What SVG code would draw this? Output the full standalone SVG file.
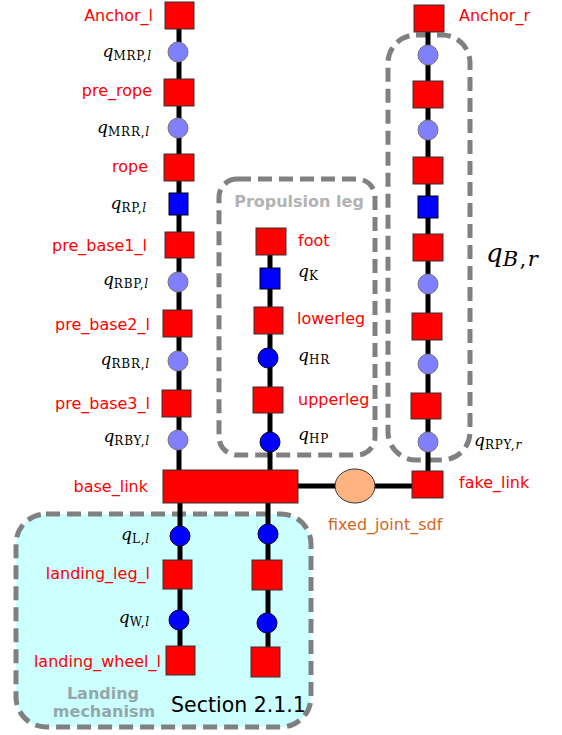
<svg xmlns="http://www.w3.org/2000/svg" width="562" height="735" viewBox="0 0 562 735">
<style>
.lk{fill:#ff0000;stroke:#333;stroke-width:1}
.jl{fill:#8080ff;stroke:#777;stroke-width:1}
.jb{fill:#0000ff;stroke:#000033;stroke-width:1}
.sq{fill:#0000ff;stroke:#000;stroke-width:1}
.wire{stroke:#000;stroke-width:5;fill:none}
.grp{fill:none;stroke:#808080;stroke-width:5;stroke-dasharray:14 7}
.lbl{font-family:"DejaVu Sans",sans-serif;font-size:16px;fill:#ff0000}
.ml{font-family:"DejaVu Serif","Liberation Serif",serif;font-size:17px;fill:#000}
.sub{font-size:12px;font-style:normal;letter-spacing:0.8px}
.it{font-style:italic}
</style>
<rect width="562" height="735" fill="#fff"/>
<g id="landing_group">
<rect x="16" y="514" width="295" height="213" rx="30" fill="#ccffff" stroke="#808080" stroke-width="5" stroke-dasharray="14 7"/>
<text x="103" y="699" text-anchor="middle" font-family="DejaVu Sans,sans-serif" font-weight="bold" font-size="16" fill="#95a8a8">Landing</text>
<text x="104" y="717" text-anchor="middle" font-family="DejaVu Sans,sans-serif" font-weight="bold" font-size="16" fill="#95a8a8">mechanism</text>
<text x="171" y="712" font-family="DejaVu Sans,sans-serif" font-size="20.5" fill="#000">Section 2.1.1</text>
</g>
<g id="propulsion_group">
<rect class="grp" x="219" y="179" width="156" height="276" rx="18"/>
<text x="299" y="207" text-anchor="middle" font-family="DejaVu Sans,sans-serif" font-weight="bold" font-size="16" fill="#b3b3b3">Propulsion leg</text>
</g>
<g id="right_group">
<rect class="grp" x="388" y="35" width="82" height="425" rx="28"/>
<text x="486" y="262" font-family="DejaVu Serif,serif" font-size="26" fill="#000"><tspan font-style="italic">q</tspan><tspan font-style="italic" font-size="21" dy="4" letter-spacing="1.5">B</tspan><tspan font-size="21" letter-spacing="1.5">,</tspan><tspan font-style="italic" font-size="21">r</tspan></text>
</g>
<g id="connectors">
<line class="wire" x1="179" y1="15" x2="179" y2="470"/>
<line class="wire" x1="270" y1="240" x2="270" y2="470"/>
<line class="wire" x1="428" y1="18" x2="428" y2="485"/>
<line class="wire" x1="180" y1="503" x2="180" y2="660"/>
<line class="wire" x1="268" y1="503" x2="268" y2="662"/>
<line class="wire" x1="298" y1="486" x2="412" y2="486"/>
</g>
<g id="Anchor_l"><rect class="lk" x="165" y="2" width="29" height="27"/><text class="lbl" x="153" y="21" text-anchor="end">Anchor_l</text></g>
<g id="q_MRP_l"><circle class="jl" cx="178" cy="52" r="10"/><text class="ml" x="152" y="57" text-anchor="end"><tspan class="it">q</tspan><tspan class="sub" dy="3">MRP,</tspan><tspan class="sub it">l</tspan></text></g>
<g id="pre_rope"><rect class="lk" x="164" y="79" width="30" height="27"/><text class="lbl" x="152" y="96" text-anchor="end">pre_rope</text></g>
<g id="q_MRR_l"><circle class="jl" cx="178" cy="128" r="10"/><text class="ml" x="150" y="133" text-anchor="end"><tspan class="it">q</tspan><tspan class="sub" dy="3">MRR,</tspan><tspan class="sub it">l</tspan></text></g>
<g id="rope"><rect class="lk" x="164" y="154" width="30" height="27"/><text class="lbl" x="148" y="172" text-anchor="end">rope</text></g>
<g id="q_RP_l"><rect class="sq" x="169" y="193" width="19" height="22"/><text class="ml" x="147" y="209" text-anchor="end"><tspan class="it">q</tspan><tspan class="sub" dy="3">RP,</tspan><tspan class="sub it">l</tspan></text></g>
<g id="pre_base1_l"><rect class="lk" x="165" y="232" width="29" height="26"/><text class="lbl" x="147" y="251" text-anchor="end">pre_base1_l</text></g>
<g id="q_RBP_l"><circle class="jl" cx="178" cy="282" r="10"/><text class="ml" x="149" y="285" text-anchor="end"><tspan class="it">q</tspan><tspan class="sub" dy="3">RBP,</tspan><tspan class="sub it">l</tspan></text></g>
<g id="pre_base2_l"><rect class="lk" x="163" y="310" width="29" height="27"/><text class="lbl" x="150" y="330" text-anchor="end">pre_base2_l</text></g>
<g id="q_RBR_l"><circle class="jl" cx="178" cy="361" r="10"/><text class="ml" x="150" y="365" text-anchor="end"><tspan class="it">q</tspan><tspan class="sub" dy="3">RBR,</tspan><tspan class="sub it">l</tspan></text></g>
<g id="pre_base3_l"><rect class="lk" x="162" y="390" width="29" height="27"/><text class="lbl" x="150" y="409" text-anchor="end">pre_base3_l</text></g>
<g id="q_RBY_l"><circle class="jl" cx="178" cy="440" r="10"/><text class="ml" x="150" y="442" text-anchor="end"><tspan class="it">q</tspan><tspan class="sub" dy="3">RBY,</tspan><tspan class="sub it">l</tspan></text></g>
<g id="base_link"><rect class="lk" x="163" y="470" width="135" height="33"/><text class="lbl" x="148" y="492" text-anchor="end">base_link</text></g>
<g id="q_L_l"><circle class="jb" cx="180" cy="536" r="10"/><text class="ml" x="150" y="540" text-anchor="end"><tspan class="it">q</tspan><tspan class="sub" dy="3">L,</tspan><tspan class="sub it">l</tspan></text></g>
<g id="landing_leg_l"><rect class="lk" x="163" y="560" width="29" height="29"/><text class="lbl" x="150" y="579" text-anchor="end">landing_leg_l</text></g>
<g id="q_W_l"><circle class="jb" cx="179" cy="620" r="10"/><text class="ml" x="150" y="623" text-anchor="end"><tspan class="it">q</tspan><tspan class="sub" dy="3">W,</tspan><tspan class="sub it">l</tspan></text></g>
<g id="landing_wheel_l"><rect class="lk" x="166" y="646" width="29" height="29"/><text class="lbl" x="161" y="667" text-anchor="end">landing_wheel_l</text></g>
<g id="q_L_r"><circle class="jb" cx="268" cy="534" r="10"/></g>
<g id="landing_leg_r"><rect class="lk" x="252" y="560" width="30" height="30"/></g>
<g id="q_W_r"><circle class="jb" cx="267" cy="623" r="10"/></g>
<g id="landing_wheel_r"><rect class="lk" x="251" y="647" width="29" height="30"/></g>
<g id="foot"><rect class="lk" x="256" y="228" width="30" height="27"/><text class="lbl" x="298" y="246">foot</text></g>
<g id="q_K"><rect class="sq" x="260" y="268" width="20" height="21"/><text class="ml" x="298" y="277"><tspan class="it">q</tspan><tspan class="sub" dy="3">K</tspan></text></g>
<g id="lowerleg"><rect class="lk" x="254" y="307" width="29" height="27"/><text class="lbl" x="297" y="324">lowerleg</text></g>
<g id="q_HR"><circle class="jb" cx="268" cy="358" r="10"/><text class="ml" x="298" y="361"><tspan class="it">q</tspan><tspan class="sub" dy="3">HR</tspan></text></g>
<g id="upperleg"><rect class="lk" x="253" y="387" width="30" height="26"/><text class="lbl" x="298" y="405">upperleg</text></g>
<g id="q_HP"><circle class="jb" cx="270" cy="442" r="10"/><text class="ml" x="298" y="440"><tspan class="it">q</tspan><tspan class="sub" dy="3">HP</tspan></text></g>
<g id="Anchor_r"><rect class="lk" x="414" y="5" width="30" height="27"/><text class="lbl" x="459" y="21">Anchor_r</text></g>
<g id="q_MRP_r"><circle class="jl" cx="428" cy="55" r="10"/></g>
<g id="pre_rope_r"><rect class="lk" x="413" y="81" width="30" height="27"/></g>
<g id="q_MRR_r"><circle class="jl" cx="428" cy="130" r="10"/></g>
<g id="rope_r"><rect class="lk" x="413" y="157" width="30" height="27"/></g>
<g id="q_RP_r"><rect class="sq" x="418" y="196" width="20" height="22"/></g>
<g id="pre_base1_r"><rect class="lk" x="413" y="234" width="30" height="27"/></g>
<g id="q_RBP_r"><circle class="jl" cx="428" cy="284" r="10"/></g>
<g id="pre_base2_r"><rect class="lk" x="412" y="313" width="30" height="27"/></g>
<g id="q_RBR_r"><circle class="jl" cx="428" cy="364" r="10"/></g>
<g id="pre_base3_r"><rect class="lk" x="411" y="393" width="30" height="26"/></g>
<g id="q_RPY_r"><circle class="jl" cx="428" cy="442" r="10"/><text class="ml" x="474" y="446"><tspan class="it">q</tspan><tspan class="sub" dy="3">RPY,</tspan><tspan class="sub it">r</tspan></text></g>
<g id="fake_link"><rect class="lk" x="412" y="471" width="31" height="27"/><text class="lbl" x="459" y="488">fake_link</text></g>
<g id="fixed_joint_sdf"><ellipse cx="355" cy="486" rx="20" ry="17" fill="#ffb380" stroke="#333" stroke-width="1"/><text x="328" y="530" font-family="DejaVu Sans,sans-serif" font-size="16" fill="#d4661e">fixed_joint_sdf</text></g>
</svg>
